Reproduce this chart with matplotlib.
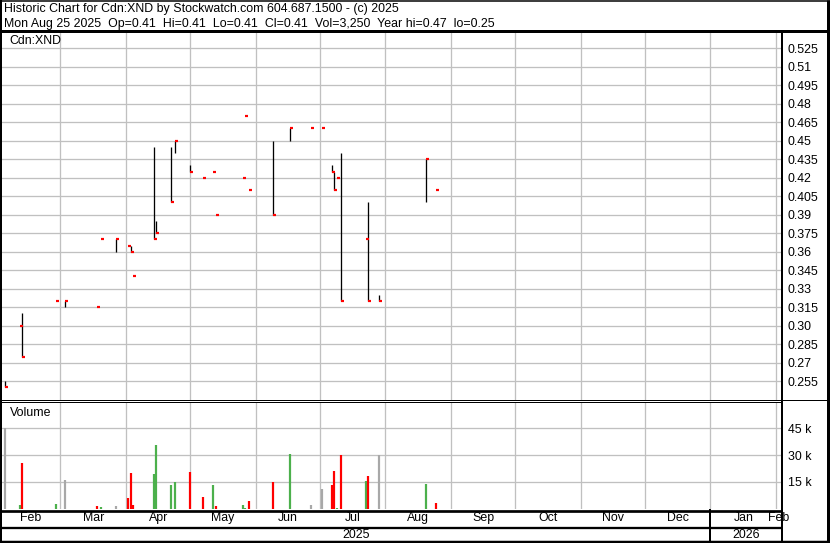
import matplotlib
matplotlib.use('Agg')
import matplotlib.pyplot as plt
import matplotlib.dates as mdates
import pandas as pd

plt.rcParams['font.family'] = ['Liberation Sans', 'DejaVu Sans']

# ---------------- data ----------------
dates = ['2025-02-03', '2025-02-10', '2025-02-11', '2025-02-27', '2025-03-03',
         '2025-03-18', '2025-03-20', '2025-03-27', '2025-04-02', '2025-04-03',
         '2025-04-04', '2025-04-14', '2025-04-15', '2025-04-22', '2025-04-24',
         '2025-05-01', '2025-05-07', '2025-05-12', '2025-05-13', '2025-05-26',
         '2025-05-27', '2025-05-29', '2025-06-09', '2025-06-17', '2025-06-27',
         '2025-07-02', '2025-07-07', '2025-07-08', '2025-07-09', '2025-07-11',
         '2025-07-23', '2025-07-24', '2025-07-29', '2025-08-20', '2025-08-25']
high = [0.255, 0.30, 0.31, 0.32, 0.32, 0.315, 0.37, 0.37, 0.365, 0.365,
        0.34, 0.445, 0.385, 0.445, 0.45, 0.43, 0.42, 0.425, 0.39, 0.42,
        0.47, 0.41, 0.45, 0.46, 0.46, 0.46, 0.43, 0.425, 0.42, 0.44,
        0.37, 0.40, 0.325, 0.435, 0.41]
low = [0.25, 0.30, 0.275, 0.32, 0.315, 0.315, 0.37, 0.36, 0.365, 0.36,
       0.34, 0.37, 0.375, 0.40, 0.44, 0.425, 0.42, 0.425, 0.39, 0.42,
       0.47, 0.41, 0.39, 0.45, 0.46, 0.46, 0.425, 0.41, 0.42, 0.32,
       0.37, 0.32, 0.32, 0.40, 0.41]
close = [0.25, 0.30, 0.275, 0.32, 0.32, 0.315, 0.37, 0.37, 0.365, 0.36,
         0.34, 0.37, 0.375, 0.40, 0.45, 0.425, 0.42, 0.425, 0.39, 0.42,
         0.47, 0.41, 0.39, 0.46, 0.46, 0.46, 0.425, 0.41, 0.42, 0.32,
         0.37, 0.32, 0.32, 0.435, 0.41]
volume = [45200, 2000, 25500, 2500, 15800, 1400, 800, 1400, 5900, 19900,
          2000, 19400, 35600, 13200, 14900, 20500, 6500, 13200, 1400, 2000,
          300, 4200, 14900, 30600, 2000, 10900, 13200, 21000, 300, 30000,
          15400, 18200, 30000, 13700, 3250]

price_ticks = [0.525, 0.51, 0.495, 0.48, 0.465, 0.45, 0.435, 0.42, 0.405, 0.39,
               0.375, 0.36, 0.345, 0.33, 0.315, 0.30, 0.285, 0.27, 0.255]
price_tick_labels = ['0.525', '0.51', '0.495', '0.48', '0.465', '0.45', '0.435',
                     '0.42', '0.405', '0.39', '0.375', '0.36', '0.345', '0.33',
                     '0.315', '0.30', '0.285', '0.27', '0.255']
vol_ticks = [15000, 30000, 45000]
vol_tick_labels = ['15 k', '30 k', '45 k']

title_line1 = 'Historic Chart for Cdn:XND by Stockwatch.com 604.687.1500 - (c) 2025'
title_line2 = ('Mon Aug 25 2025  Op=0.41  Hi=0.41  Lo=0.41  Cl=0.41  '
               'Vol=3,250  Year hi=0.47  lo=0.25')
symbol_label = 'Cdn:XND'
x_start, x_end = '2025-02-01', '2026-02-03 06:00'

# ---------------- layout ----------------
W, H = 830, 543
fig = plt.figure(figsize=(W / 100, H / 100), dpi=100, facecolor='white')
PX = 72 / 100  # points per pixel
FS = 12.4 * PX

def axes_px(x0, y0, x1, y1):
    return fig.add_axes([x0 / W, (H - y1) / H, (x1 - x0) / W, (y1 - y0) / H])

ax_p = axes_px(1, 32, 781, 400)
ax_v = axes_px(1, 402, 781, 509)
ax_l = axes_px(1, 510, 781, 543)

xd = mdates.date2num(pd.to_datetime(dates))
x0n = mdates.date2num(pd.Timestamp(x_start))
x1n = mdates.date2num(pd.Timestamp(x_end))
px_per_day = 780 / (x1n - x0n)
tick_len = 3 / px_per_day

month_starts = pd.date_range('2025-02-01', '2026-02-01', freq='MS')
ms_num = mdates.date2num(month_starts)
grid_c = '#c0c0c0'

for ax in (ax_p, ax_v, ax_l):
    ax.set_xlim(x0n, x1n)
    for s in ax.spines.values():
        s.set_visible(False)

# price panel
ax_p.set_ylim(0.2398, 0.5382)
ax_p.set_xticks(ms_num[1:])
ax_p.set_xticklabels([])
ax_p.set_yticks(price_ticks)
ax_p.set_yticklabels(price_tick_labels)
ax_p.yaxis.tick_right()
ax_p.tick_params(length=0, labelsize=FS, pad=5, colors='black')
ax_p.grid(True, color=grid_c, lw=1.3 * PX)
ax_p.set_axisbelow(True)
ax_p.vlines(xd, low, high, color='black', lw=1.3 * PX, zorder=3)
ax_p.hlines(close, xd, xd + tick_len, color='#ff0000', lw=2.2 * PX, zorder=4)
ax_p.text(8 / 780, 1 - (41.5 - 32) / 368, symbol_label, transform=ax_p.transAxes,
          fontsize=FS, va='center', ha='left')

# volume panel
vcolors = ['#a8a8a8']
for i in range(1, len(close)):
    if close[i] > close[i - 1]:
        vcolors.append('#4cb04c')
    elif close[i] < close[i - 1]:
        vcolors.append('#ff0000')
    else:
        vcolors.append('#a8a8a8')
ax_v.set_ylim(-280, 59760)
ax_v.set_xticks(ms_num[1:])
ax_v.set_xticklabels([])
ax_v.set_yticks(vol_ticks)
ax_v.set_yticklabels(vol_tick_labels)
ax_v.yaxis.tick_right()
ax_v.tick_params(length=0, labelsize=FS, pad=5, colors='black')
ax_v.grid(True, color=grid_c, lw=1.3 * PX)
ax_v.set_axisbelow(True)
ax_v.vlines(xd, -280, volume, colors=vcolors, lw=2.2 * PX, zorder=3)
ax_v.text(9 / 780, 1 - (413.3 - 402) / 107, 'Volume', transform=ax_v.transAxes,
          fontsize=FS, va='center', ha='left')

# month / year label rows
ax_l.set_ylim(543, 510)
ax_l.axis('off')
edges = list(ms_num) + [x1n]
for i, m in enumerate(month_starts):
    a, b = edges[i], min(edges[i + 1], x1n)
    ax_l.text((a + b) / 2, 518.3, m.strftime('%b'), ha='center', va='center',
              fontsize=FS)
jan1 = mdates.date2num(pd.Timestamp('2026-01-01'))
ax_l.text((x0n + jan1) / 2, 534.5, '2025', ha='center', va='center', fontsize=FS)
ax_l.text((jan1 + x1n) / 2, 534.5, '2026', ha='center', va='center', fontsize=FS)
ax_l.plot([jan1, jan1], [510, 543], color='black', lw=2 * PX, clip_on=False)

# frame overlay
ov = fig.add_axes([0, 0, 1, 1], facecolor='none')
ov.set_xlim(0, W)
ov.set_ylim(H, 0)
ov.axis('off')
def seg(x0, y0, x1, y1, w):
    ov.plot([x0, x1], [y0, y1], color='black', lw=w * PX, solid_capstyle='butt')
seg(0, 0.5, W, 0.5, 1.5)
seg(1, 0, 1, H, 2)
seg(827.8, 0, 827.8, H, 3)
seg(0, 541.8, W, 541.8, 2.5)
seg(0, 30.7, W, 30.7, 3)
seg(781.7, 30, 781.7, H, 2)
seg(0, 399.8, 781, 399.8, 1)
seg(0, 401.9, 781, 401.9, 1)
seg(781, 400.2, W, 400.2, 1)
seg(0, 510.6, 781, 510.6, 2.7)
seg(0, 527.8, 781, 527.8, 2.3)
ov.text(4, 9, title_line1, fontsize=FS, va='center', ha='left')
ov.text(4, 23.5, title_line2, fontsize=FS, va='center', ha='left')

fig.savefig('out.png', dpi=100, facecolor='white')
